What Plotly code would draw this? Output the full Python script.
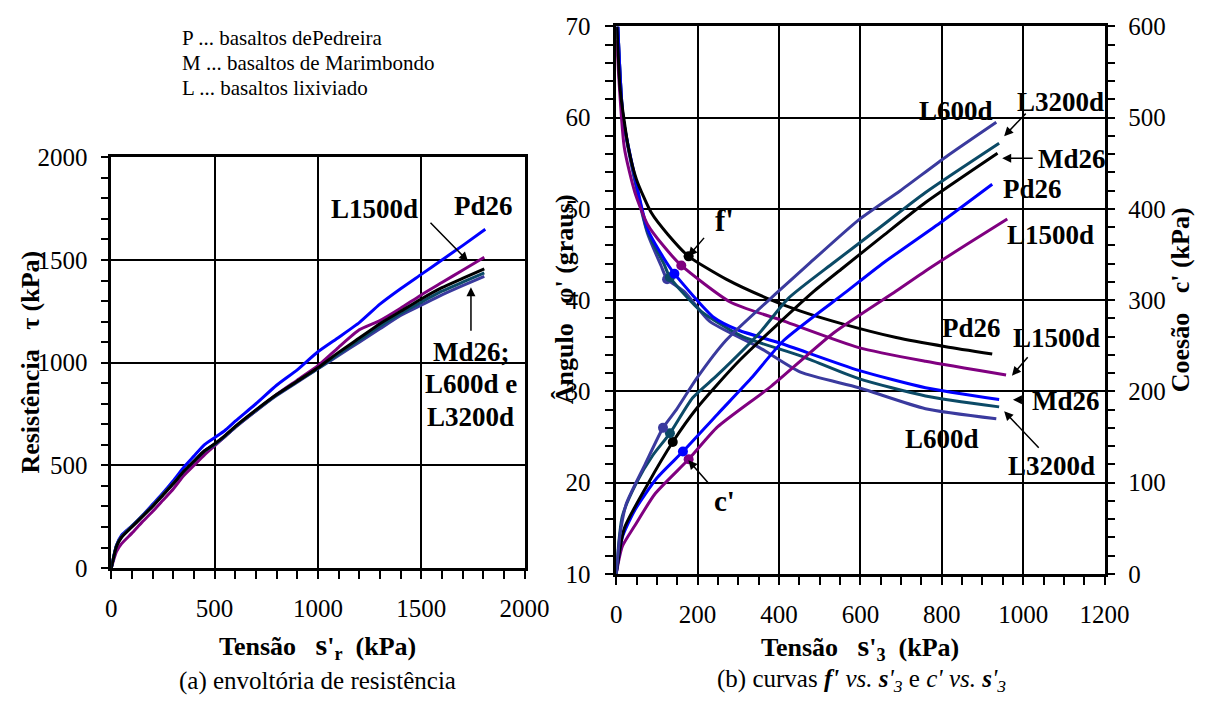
import plotly.graph_objects as go

W, H = 1228, 710
FONT = "Liberation Serif"

# ---------------- (a) envoltória de resistência : sigma'_r x tau (kPa)
sig_pd26 = [0, 25, 50, 100, 150, 200, 250, 300, 350, 400, 450, 500, 550, 600, 700, 800, 900, 1000,
            1100, 1200, 1300, 1400, 1500, 1600, 1700, 1810]
tau_pd26 = [0, 110, 160, 205, 255, 310, 365, 425, 490, 545, 600, 635, 670, 715, 800, 890, 965, 1053,
            1123, 1195, 1285, 1360, 1430, 1500, 1570, 1650]

sig_md26 = [0, 25, 50, 100, 150, 200, 250, 300, 350, 400, 450, 500, 550, 600, 700, 800, 900, 1000,
            1100, 1200, 1300, 1400, 1500, 1600, 1700, 1805]
tau_md26 = [0, 105, 150, 200, 250, 300, 355, 410, 470, 520, 570, 605, 645, 690, 770, 845, 910, 975,
            1050, 1120, 1190, 1250, 1310, 1365, 1410, 1457]

sig_l600 = [0, 25, 50, 100, 150, 200, 250, 300, 350, 400, 450, 500, 550, 600, 700, 800, 900, 1000,
            1100, 1200, 1300, 1400, 1500, 1600, 1700, 1805]
tau_l600 = [0, 110, 155, 205, 255, 305, 360, 415, 470, 520, 570, 600, 640, 685, 765, 840, 905, 970,
            1035, 1100, 1165, 1230, 1280, 1330, 1375, 1420]

sig_l3200 = [0, 25, 50, 100, 150, 200, 250, 300, 350, 400, 450, 500, 550, 600, 700, 800, 900, 1000,
             1100, 1200, 1300, 1400, 1500, 1600, 1700, 1805]
tau_l3200 = [0, 108, 152, 203, 252, 302, 357, 412, 470, 520, 568, 603, 642, 688, 768, 843, 908, 972,
             1042, 1110, 1178, 1240, 1295, 1348, 1392, 1437]

sig_l1500 = [0, 25, 50, 100, 150, 200, 250, 300, 350, 400, 450, 500, 550, 600, 700, 800, 900, 1000,
             1100, 1200, 1300, 1400, 1500, 1600, 1700, 1805]
tau_l1500 = [0, 80, 119, 170, 225, 275, 330, 385, 450, 500, 550, 595, 640, 685, 765, 845, 915, 985,
             1075, 1160, 1205, 1265, 1330, 1390, 1450, 1513]

# ---------------- (b) phi' x sigma'_3 (graus)
sp_md26 = [2, 10, 30, 50, 86, 127, 178, 270, 371, 453, 556, 688, 810, 924]
phi_md26 = [70, 63, 56.7, 53.2, 49.6, 47.2, 44.8, 42.3, 40.2, 38.8, 37.4, 35.9, 34.9, 34.1]

sp_pd26 = [4, 17, 46, 77, 117, 143, 240, 301, 402, 596, 760, 941]
phi_pd26 = [70, 60, 53.5, 47.8, 44.6, 42.9, 38.1, 36.7, 35.3, 32.3, 30.4, 29.1]

sp_l3200 = [4, 17, 46, 77, 117, 132, 208, 311, 453, 596, 760, 941]
phi_l3200 = [70, 60, 53.3, 47.5, 44.0, 42.5, 38.8, 36.0, 33.9, 31.4, 29.5, 28.3]

sp_l600 = [4, 17, 46, 77, 110, 125, 168, 229, 352, 453, 596, 760, 934]
phi_l600 = [70, 60, 53, 47.3, 43.8, 42.3, 40.9, 37.7, 34.8, 32.1, 30.4, 28.1, 27.0]

sp_l1500 = [1, 20, 46, 77, 117, 160, 280, 412, 596, 760, 958]
phi_l1500 = [68.5, 56.7, 51.8, 48.3, 45.9, 43.8, 39.8, 37.7, 34.8, 33.3, 31.8]

# ---------------- (b) c' x sigma'_3 (kPa)
sc_l600 = [0, 10, 25, 71, 115, 148, 199, 270, 397, 474, 596, 698, 810, 934]
c_l600 = [0, 45, 77, 120, 160, 180, 215, 256, 309, 340, 388, 420, 457, 495]

sc_l3200 = [0, 15, 50, 90, 132, 188, 249, 352, 423, 534, 637, 760, 941]
c_l3200 = [0, 63, 100, 130, 154, 193, 218, 264, 302, 341, 376, 418, 472]

sc_md26 = [0, 20, 77, 139, 199, 301, 484, 556, 657, 760, 937]
c_md26 = [0, 50, 98, 144.5, 182, 233, 309, 335, 371, 407, 461]

sc_pd26 = [0, 15, 46, 100, 164, 249, 331, 412, 565, 657, 800, 924]
c_pd26 = [0, 40, 70, 105, 134, 175, 214, 256, 309, 341, 386, 427]

sc_l1500 = [0, 15, 46, 96, 178, 249, 382, 534, 688, 760, 861, 961]
c_l1500 = [0, 30, 53, 88, 125.5, 161, 206, 264, 310, 332, 361, 389]

# highlighted points on each curve
phi_dots = {"Md26": (178, 44.8), "L1500d": (160, 43.8), "Pd26": (143, 42.9),
            "L3200d": (132, 42.5), "L600d": (125, 42.3)}
c_dots = {"L600d": (115, 160), "L3200d": (132, 154), "Md26": (139, 144.5),
          "Pd26": (164, 134), "L1500d": (178, 125.5)}

COLORS = {"Pd26": "#0000FF", "Md26": "#000000", "L600d": "#3A3A9E",
          "L3200d": "#0B4A66", "L1500d": "#800080"}

fig = go.Figure()

envelopes = [("L1500d", sig_l1500, tau_l1500), ("Pd26", sig_pd26, tau_pd26),
             ("L600d", sig_l600, tau_l600), ("L3200d", sig_l3200, tau_l3200),
             ("Md26", sig_md26, tau_md26)]
for name, xs, ys in envelopes:
    fig.add_trace(go.Scatter(x=xs, y=ys, mode="lines", name=name, xaxis="x", yaxis="y",
                             line=dict(color=COLORS[name], width=3, shape="spline", smoothing=0.5),
                             showlegend=False))

phi_curves = [("L600d", sp_l600, phi_l600), ("L3200d", sp_l3200, phi_l3200),
              ("Pd26", sp_pd26, phi_pd26), ("L1500d", sp_l1500, phi_l1500),
              ("Md26", sp_md26, phi_md26)]
for name, xs, ys in phi_curves:
    fig.add_trace(go.Scatter(x=xs, y=ys, mode="lines", name=name, xaxis="x2", yaxis="y2",
                             line=dict(color=COLORS[name], width=3, shape="spline", smoothing=0.6),
                             showlegend=False))
    dx, dy = phi_dots[name]
    fig.add_trace(go.Scatter(x=[dx], y=[dy], mode="markers", xaxis="x2", yaxis="y2",
                             marker=dict(color=COLORS[name], size=10), showlegend=False))

c_curves = [("L1500d", sc_l1500, c_l1500), ("Pd26", sc_pd26, c_pd26),
            ("Md26", sc_md26, c_md26), ("L3200d", sc_l3200, c_l3200),
            ("L600d", sc_l600, c_l600)]
for name, xs, ys in c_curves:
    fig.add_trace(go.Scatter(x=xs, y=ys, mode="lines", name=name, xaxis="x2", yaxis="y3",
                             line=dict(color=COLORS[name], width=3, shape="spline", smoothing=0.6),
                             showlegend=False))
    dx, dy = c_dots[name]
    fig.add_trace(go.Scatter(x=[dx], y=[dy], mode="markers", xaxis="x2", yaxis="y3",
                             marker=dict(color=COLORS[name], size=10), showlegend=False))


def px(x):
    return x / W


def py(y):
    return 1 - y / H


TICKFONT = dict(family=FONT, size=25, color="black")
MINOR = dict(ticks="outside", ticklen=8, tickwidth=1.5, tickcolor="black")
common = dict(showgrid=True, gridcolor="black", gridwidth=1.6, showline=True, linecolor="black",
              linewidth=2.5, ticks="outside", ticklen=8, tickwidth=1.5, tickcolor="black",
              zeroline=False, tickfont=TICKFONT)

fig.update_layout(
    width=W, height=H, margin=dict(l=0, r=0, t=0, b=0),
    paper_bgcolor="white", plot_bgcolor="white", showlegend=False,
    xaxis=dict(domain=[px(108), px(532)], range=[0, 2000], tick0=0, dtick=500, anchor="y",
               mirror=True, ticklabelstandoff=8, minor=dict(dtick=100, **MINOR), **common),
    yaxis=dict(domain=[py(577), py(150)], range=[0, 2000], tick0=0, dtick=500, anchor="x",
               mirror=True, ticklabelstandoff=8, minor=dict(dtick=100, **MINOR), **common),
    xaxis2=dict(domain=[px(626), px(1127)], range=[0, 1200], tick0=0, dtick=200, anchor="y2",
                mirror=True, ticklabelstandoff=8, minor=dict(dtick=50, **MINOR), **common),
    yaxis2=dict(domain=[py(583), py(14)], range=[10, 70], tick0=10, dtick=10, anchor="x2",
                ticklabelstandoff=10, minor=dict(dtick=2, **MINOR), **common),
    yaxis3=dict(range=[0, 600], tick0=0, dtick=100, overlaying="y2", side="right", anchor="x2",
                showgrid=False, showline=True, linecolor="black", linewidth=2.5, ticks="outside",
                ticklen=8, tickwidth=1.5, tickcolor="black", zeroline=False, tickfont=TICKFONT,
                ticklabelstandoff=8, minor=dict(dtick=20, **MINOR)),
)

annotations = []


def label(x, y, text, size=27, bold=True, angle=0, xanchor="center"):
    annotations.append(dict(x=px(x), y=py(y), xref="paper", yref="paper", text=text,
                            showarrow=False, textangle=angle, xanchor=xanchor, yanchor="middle",
                            font=dict(family=FONT, size=size, color="black",
                                      weight="bold" if bold else "normal")))


def arrow(tx, ty, hx, hy):
    annotations.append(dict(x=px(hx), y=py(hy), xref="paper", yref="paper", text="",
                            showarrow=True, ax=tx - hx, ay=ty - hy, axref="pixel", ayref="pixel",
                            arrowhead=2, arrowsize=1.2, arrowwidth=1.5, arrowcolor="black"))


SYM = '<span style="font-size:30px">s</span>'

# key of sample groups
label(178, 26, "P ... basaltos dePedreira", size=21, bold=False, xanchor="left")
label(178, 52, "M ... basaltos de Marimbondo", size=21, bold=False, xanchor="left")
label(178, 78, "L ... basaltos lixiviado", size=21, bold=False, xanchor="left")

# (a) curve labels
label(378, 204, "L1500d")
label(490, 201, "Pd26")
arrow(435, 218, 474, 258)
arrow(477, 330, 477, 285)
label(478, 352, "Md26;")
label(477, 386, "L600d e")
label(477, 420, "L3200d")

# (b) c' labels
label(975, 102, "L600d")
label(1082, 92, "L3200d")
arrow(1047, 104, 1024, 128)
label(1094, 152, "Md26")
arrow(1054, 151, 1022, 151)
label(1053, 183, "Pd26")
label(1072, 231, "L1500d")
label(737, 216, "f'", size=31)
arrow(717, 233, 700, 253)

# (b) phi' labels
label(990, 327, "Pd26")
label(1078, 338, "L1500d")
arrow(1049, 357, 1032, 377)
label(1087, 403, "Md26")
arrow(1045, 402, 1033, 402)
label(960, 443, "L600d")
label(1073, 471, "L3200d")
arrow(1060, 452, 1024, 414)
label(737, 507, "c'", size=29)
arrow(722, 490, 700, 465)

# axis titles
label(25, 363, "Resistência   τ (kPa)", size=26, angle=-90)
label(320, 658, "Tensão   " + SYM + "'<sub>r</sub>  (kPa)", size=26)
label(573, 298, "Ângulo   φ' (graus)", size=26, angle=-90)
label(1205, 298, "Coesão   c' (kPa)", size=26, angle=-90)
label(876, 659, "Tensão   " + SYM + "'<sub>3</sub>  (kPa)", size=26)

# captions
label(320, 694, "(a) envoltória de resistência", size=25, bold=False)
label(878, 694, "(b) curvas <b><i>f'</i></b> <i>vs.</i> <b><i>s</i></b><i>'<sub>3</sub></i> e "
                "<i>c' vs.</i> <b><i>s</i></b><i>'<sub>3</sub></i>", size=25, bold=False)

fig.update_layout(annotations=annotations)
fig.write_html("out.html")
